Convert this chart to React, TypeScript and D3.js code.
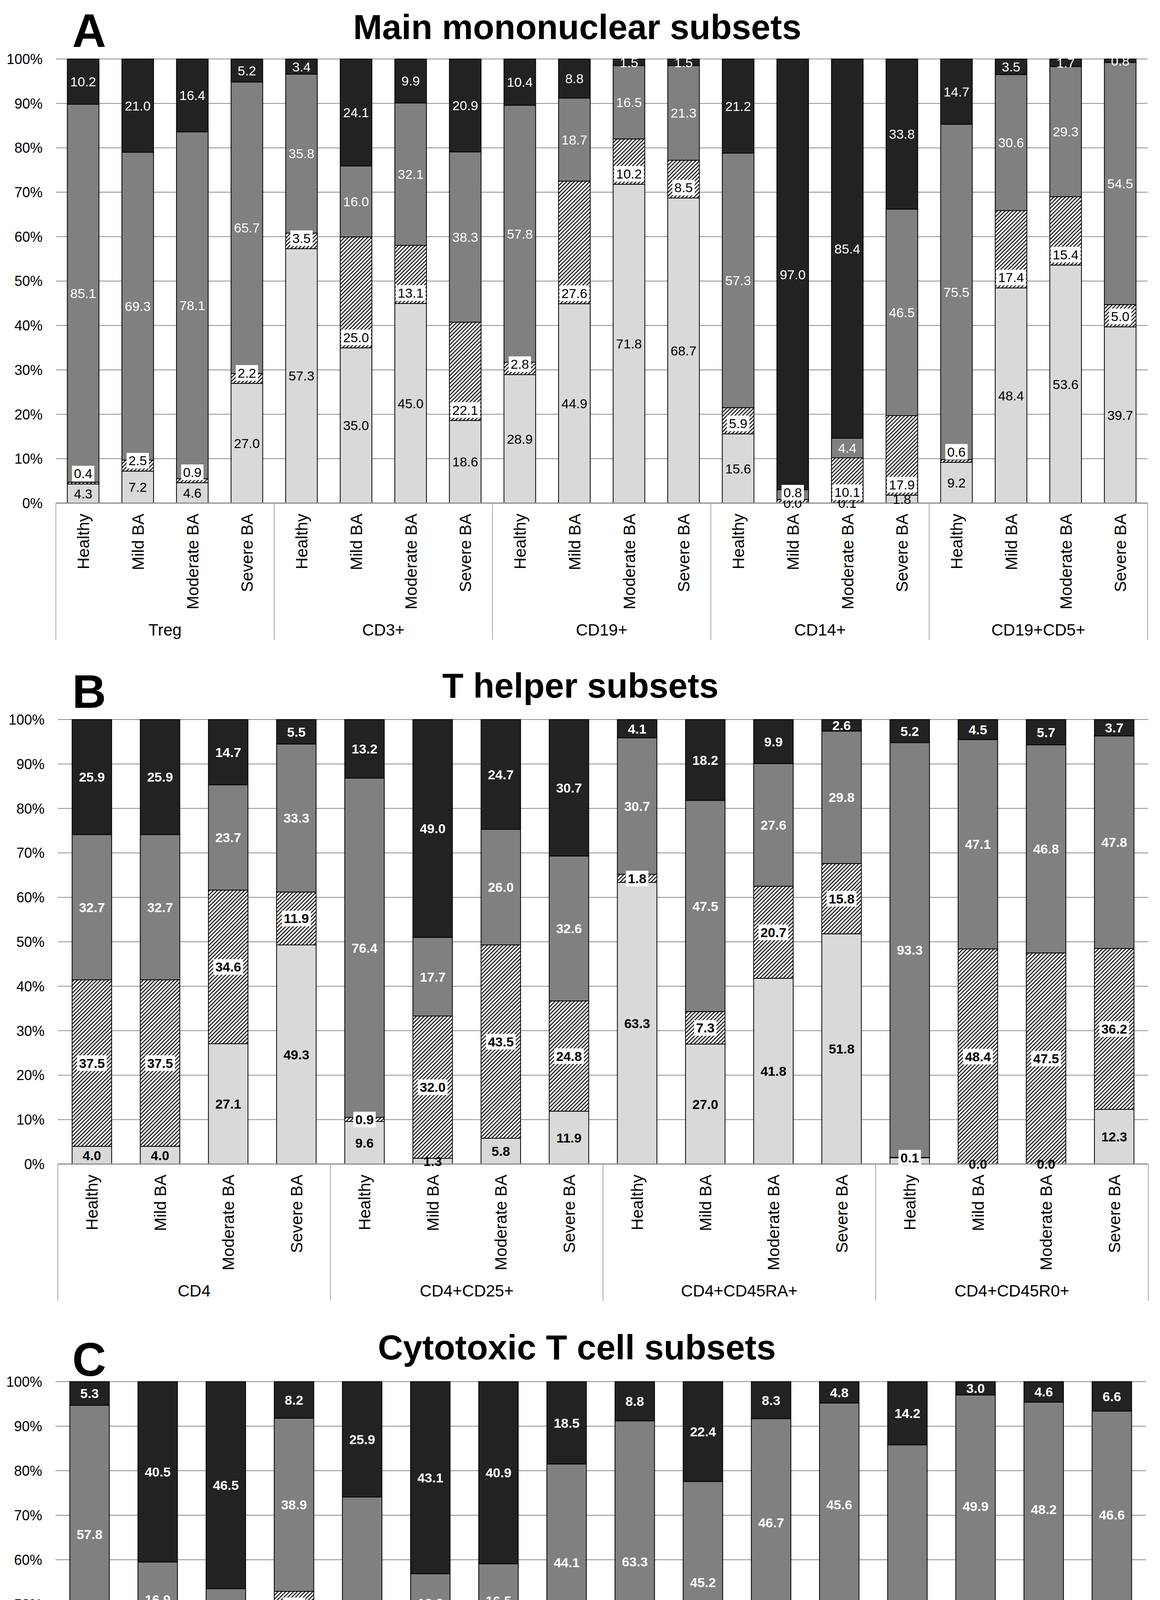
import React, { useEffect, useRef } from 'react';
import * as d3 from 'd3';

const W = 2970;
const H = 5338;

const conditions = ['Healthy', 'Mild BA', 'Moderate BA', 'Severe BA'];
const seriesKeys = ['dn', 't1', 't2', 'dp'];
const seriesNames = ['Double-negative cells', 'TNFR1+TNFR2\u2212', 'TNFR1\u2212TNFR2+', 'Double-positive cells'];
const yTickValues = [0, 10, 20, 30, 40, 50, 60, 70, 80, 90, 100];

// Panel A: Main mononuclear subsets
const groupsA = ['Treg', 'CD3+', 'CD19+', 'CD14+', 'CD19+CD5+'];
const dnA = [4.3, 7.2, 4.6, 27.0, 57.3, 35.0, 45.0, 18.6, 28.9, 44.9, 71.8, 68.7, 15.6, 0.0, 0.1, 1.8, 9.2, 48.4, 53.6, 39.7];
const t1A = [0.4, 2.5, 0.9, 2.2, 3.5, 25.0, 13.1, 22.1, 2.8, 27.6, 10.2, 8.5, 5.9, 0.8, 10.1, 17.9, 0.6, 17.4, 15.4, 5.0];
const t2A = [85.1, 69.3, 78.1, 65.7, 35.8, 16.0, 32.1, 38.3, 57.8, 18.7, 16.5, 21.3, 57.3, 2.2, 4.4, 46.5, 75.5, 30.6, 29.3, 54.5];
const dpA = [10.2, 21.0, 16.4, 5.2, 3.4, 24.1, 9.9, 20.9, 10.4, 8.8, 1.5, 1.5, 21.2, 97.0, 85.4, 33.8, 14.7, 3.5, 1.7, 0.8];

// Panel B: T helper subsets
const groupsB = ['CD4', 'CD4+CD25+', 'CD4+CD45RA+', 'CD4+CD45R0+'];
const dnB = [4.0, 4.0, 27.1, 49.3, 9.6, 1.3, 5.8, 11.9, 63.3, 27.0, 41.8, 51.8, 1.4, 0.0, 0.0, 12.3];
const t1B = [37.5, 37.5, 34.6, 11.9, 0.9, 32.0, 43.5, 24.8, 1.8, 7.3, 20.7, 15.8, 0.1, 48.4, 47.5, 36.2];
const t2B = [32.7, 32.7, 23.7, 33.3, 76.4, 17.7, 26.0, 32.6, 30.7, 47.5, 27.6, 29.8, 93.3, 47.1, 46.8, 47.8];
const dpB = [25.9, 25.9, 14.7, 5.5, 13.2, 49.0, 24.7, 30.7, 4.1, 18.2, 9.9, 2.6, 5.2, 4.5, 5.7, 3.7];

// Panel C: Cytotoxic T cell subsets
const groupsC = ['CD8', 'CD8+CD25+', 'CD8+CD45RA+', 'CD8+CD45R0+'];
const dnC = [35.0, 29.2, 8.5, 46.7, 15.0, 8.7, 10.4, 17.0, 26.1, 3.2, 14.3, 8.2, 7.2, 0.1, 0.0, 2.0];
const t1C = [1.8, 13.4, 16.2, 6.2, 4.3, 34.9, 32.2, 20.4, 1.8, 29.1, 30.6, 41.4, 0.3, 47.1, 47.2, 44.7];
const t2C = [57.8, 16.9, 28.8, 38.9, 54.8, 13.2, 16.5, 44.1, 63.3, 45.2, 46.7, 45.6, 78.3, 49.9, 48.2, 46.6];
const dpC = [5.3, 40.5, 46.5, 8.2, 25.9, 43.1, 40.9, 18.5, 8.8, 22.4, 8.3, 4.8, 14.2, 3.0, 4.6, 6.6];

const FONT = "'Liberation Sans', Arial, Helvetica, sans-serif";
const FILLS: Record<string, string> = { dn: '#d9d9d9', t1: 'url(#hatch)', t2: '#808080', dp: '#222222' };

interface Panel {
  letter: string; title: string; groups: string[];
  dn: number[]; t1: number[]; t2: number[]; dp: number[];
  x0: number; x1: number; yTop: number; yBot: number;
  letterY: number; titleY: number; titleX: number; bold: boolean; hatchAtBase: boolean;
}

const panels: Panel[] = [
  { letter: 'A', title: 'Main mononuclear subsets', groups: groupsA, dn: dnA, t1: t1A, t2: t2A, dp: dpA,
    x0: 143, x1: 2938, yTop: 151, yBot: 1288, letterY: 120, titleY: 100, titleX: 1478, bold: false, hatchAtBase: true },
  { letter: 'B', title: 'T helper subsets', groups: groupsB, dn: dnB, t1: t1B, t2: t2B, dp: dpB,
    x0: 148, x1: 2940, yTop: 1842, yBot: 2980, letterY: 1812, titleY: 1786, titleX: 1486, bold: true, hatchAtBase: false },
  { letter: 'C', title: 'Cytotoxic T cell subsets', groups: groupsC, dn: dnC, t1: t1C, t2: t2C, dp: dpC,
    x0: 142, x1: 2934, yTop: 3537, yBot: 4677, letterY: 3522, titleY: 3480, titleX: 1477, bold: true, hatchAtBase: false },
];

function drawPanel(svg: any, p: Panel) {
  const cats: string[] = [];
  p.groups.forEach((g) => conditions.forEach((c) => cats.push(g + '|' + c)));
  const rows = cats.map((c, i) => ({ cat: c, dn: p.dn[i], t1: p.t1[i], t2: p.t2[i], dp: p.dp[i] }));

  const x = d3.scaleBand().domain(cats).range([p.x0, p.x1]).paddingInner(0.42).paddingOuter(0.21);
  const y = d3.scaleLinear().domain([0, 1]).range([p.yBot, p.yTop]);
  const yPct = d3.scaleLinear().domain([0, 100]).range([p.yBot, p.yTop]);

  const g = svg.append('g');

  g.append('text').attr('x', 185).attr('y', p.letterY).attr('font-family', FONT).attr('font-weight', 'bold')
    .attr('font-size', 120).attr('fill', '#000').text(p.letter);
  g.append('text').attr('x', p.titleX).attr('y', p.titleY).attr('text-anchor', 'middle').attr('font-family', FONT)
    .attr('font-weight', 'bold').attr('font-size', 89).attr('fill', '#000').text(p.title);

  g.selectAll('line.grid').data(yTickValues.filter((v) => v > 0)).enter().append('line')
    .attr('x1', p.x0).attr('x2', p.x1).attr('y1', (d: number) => yPct(d)).attr('y2', (d: number) => yPct(d))
    .attr('stroke', '#8c8c8c').attr('stroke-width', 2);

  g.selectAll('text.ytick').data(yTickValues).enter().append('text')
    .attr('x', p.x0 - 34).attr('y', (d: number) => yPct(d)).attr('dy', '0.36em').attr('text-anchor', 'end')
    .attr('font-family', FONT).attr('font-size', 36).attr('fill', '#000').text((d: number) => d + '%');

  const stack = d3.stack<any>().keys(seriesKeys).offset(d3.stackOffsetExpand);
  const stacked = stack(rows);

  stacked.forEach((layer: any) => {
    const key = layer.key;
    g.append('g').selectAll('rect').data(layer).enter().append('rect')
      .attr('x', (d: any) => x(d.data.cat) as number)
      .attr('width', x.bandwidth())
      .attr('y', (d: any) => y(d[1]))
      .attr('height', (d: any) => Math.max(0, y(d[0]) - y(d[1])))
      .attr('fill', FILLS[key])
      .attr('stroke', '#000').attr('stroke-width', 2);
  });

  g.append('line').attr('x1', p.x0).attr('x2', p.x1).attr('y1', p.yBot).attr('y2', p.yBot)
    .attr('stroke', '#8c8c8c').attr('stroke-width', 3);

  const labelOrder = ['dn', 't2', 'dp', 't1'];
  const colorOf: Record<string, string> = { dn: '#000', t1: '#000', t2: '#fff', dp: '#fff' };
  labelOrder.forEach((key) => {
    const layer: any = stacked.find((l: any) => l.key === key);
    layer.forEach((d: any) => {
      const v = d.data[key] as number;
      const cx = (x(d.data.cat) as number) + x.bandwidth() / 2;
      let cy = (y(d[0]) + y(d[1])) / 2;
      if (key === 't1' && p.hatchAtBase) cy = y(d[0]) - 27;
      const lg = g.append('g');
      const t = lg.append('text').attr('x', cx).attr('y', cy).attr('dy', '0.36em').attr('text-anchor', 'middle')
        .attr('font-family', FONT).attr('font-size', 34).attr('font-weight', p.bold ? 'bold' : 'normal')
        .attr('fill', colorOf[key]).text(v.toFixed(1));
      if (key === 't1') {
        const bb = (t.node() as SVGTextElement).getBBox();
        lg.insert('rect', 'text').attr('x', bb.x - 5).attr('y', bb.y - 1).attr('width', bb.width + 10)
          .attr('height', bb.height + 2).attr('fill', '#fff');
      }
    });
  });

  const sepBottom = p.yBot + 350;
  const bounds = p.groups.map((_, gi) => x(cats[gi * 4]) as number - (x.step() * x.paddingInner()) / 2);
  bounds.push(p.x1);
  bounds[0] = p.x0;
  g.selectAll('line.sep').data(bounds).enter().append('line')
    .attr('x1', (d: number) => d).attr('x2', (d: number) => d).attr('y1', p.yBot).attr('y2', sepBottom)
    .attr('stroke', '#a6a6a6').attr('stroke-width', 2);

  g.selectAll('text.cond').data(cats).enter().append('text')
    .attr('transform', (d: string) => `translate(${(x(d) as number) + x.bandwidth() / 2},${p.yBot + 27}) rotate(-90)`)
    .attr('dy', '0.36em').attr('text-anchor', 'end').attr('font-family', FONT).attr('font-size', 42)
    .attr('fill', '#000').text((d: string) => d.split('|')[1]);

  g.selectAll('text.grp').data(p.groups).enter().append('text')
    .attr('x', (_: string, i: number) => (bounds[i] + bounds[i + 1]) / 2).attr('y', p.yBot + 339)
    .attr('text-anchor', 'middle').attr('font-family', FONT).attr('font-size', 42).attr('fill', '#000')
    .text((d: string) => d);
}

function drawLegend(svg: any) {
  const items = [
    { key: 'dn', col: 0, row: 0 },
    { key: 't1', col: 1, row: 0 },
    { key: 'dp', col: 0, row: 1 },
    { key: 't2', col: 1, row: 1 },
  ];
  const colX = [729, 1752];
  const rowY = [5149, 5270];
  const lg = svg.append('g');
  items.forEach((it) => {
    const idx = seriesKeys.indexOf(it.key);
    lg.append('rect').attr('x', colX[it.col]).attr('y', rowY[it.row]).attr('width', 38).attr('height', 38)
      .attr('fill', FILLS[it.key]).attr('stroke', '#333').attr('stroke-width', 2);
    lg.append('text').attr('x', colX[it.col] + 58).attr('y', rowY[it.row] + 43).attr('font-family', FONT)
      .attr('font-size', 73).attr('fill', '#000').text(seriesNames[idx]);
  });
}

export default function App() {
  const ref = useRef<SVGSVGElement>(null);
  useEffect(() => {
    const svg = d3.select(ref.current);
    svg.selectAll('*').remove();
    const defs = svg.append('defs');
    const pat = defs.append('pattern').attr('id', 'hatch').attr('patternUnits', 'userSpaceOnUse')
      .attr('width', 7).attr('height', 7).attr('patternTransform', 'rotate(45)');
    pat.append('rect').attr('width', 7).attr('height', 7).attr('fill', '#fff');
    pat.append('line').attr('x1', 3.5).attr('y1', -1).attr('x2', 3.5).attr('y2', 8)
      .attr('stroke', '#1a1a1a').attr('stroke-width', 2.8);
    svg.append('rect').attr('width', W).attr('height', H).attr('fill', '#fff');
    panels.forEach((p) => drawPanel(svg, p));
    drawLegend(svg);
  }, []);
  return (
    <svg ref={ref} width={W} height={H} viewBox={`0 0 ${W} ${H}`}
      style={{ position: 'absolute', left: 0, top: 0, display: 'block', background: '#fff' }} />
  );
}
